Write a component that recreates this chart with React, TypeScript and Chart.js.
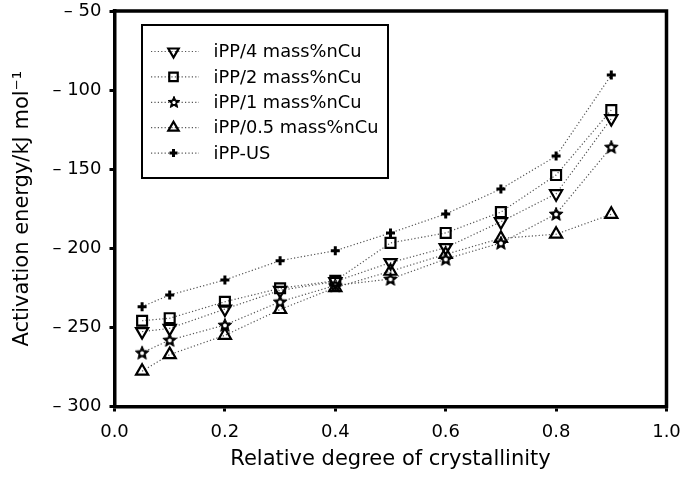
import React, { useEffect, useRef } from 'react';
import { Chart, registerables } from 'chart.js';

Chart.register(...registerables);

const X_VALUES = [0.05, 0.1, 0.2, 0.3, 0.4, 0.5, 0.6, 0.7, 0.8, 0.9];
const SERIES_LABELS = ['iPP/4 mass%nCu', 'iPP/2 mass%nCu', 'iPP/1 mass%nCu', 'iPP/0.5 mass%nCu', 'iPP-US'];
const IPP_4 = [-252.7, -250.6, -238.4, -226.6, -221.0, -209.0, -199.6, -183.2, -165.5, -118.0];
const IPP_2 = [-245.8, -244.2, -233.8, -225.3, -220.5, -196.6, -190.3, -177.1, -153.7, -112.6];
const IPP_1 = [-266.0, -258.0, -248.5, -233.8, -223.5, -219.4, -206.8, -196.6, -178.3, -136.0];
const IPP_05 = [-277.7, -267.2, -255.0, -238.7, -224.8, -214.5, -203.8, -193.7, -191.1, -178.5];
const IPP_US = [-236.9, -229.5, -220.0, -207.8, -201.5, -190.3, -178.3, -162.5, -141.7, -90.5];

const X_TICKS = [0, 0.2, 0.4, 0.6, 0.8, 1.0];
const X_TICK_LABELS = ['0.0', '0.2', '0.4', '0.6', '0.8', '1.0'];
const Y_TICKS = [-300, -250, -200, -150, -100, -50];
const Y_TICK_LABELS = ['\u2013 300', '\u2013 250', '\u2013 200', '\u2013 150', '\u2013 100', '\u2013 50'];
const X_TITLE = 'Relative degree of crystallinity';
const Y_TITLE = 'Activation energy/kJ mol\u207B\u00B9';

const FONT = "'DejaVu Sans', sans-serif";
const LINE_COLOR = '#555';

function starPath(ctx: CanvasRenderingContext2D, cx: number, cy: number, outer: number, inner: number) {
  ctx.beginPath();
  for (let i = 0; i < 10; i++) {
    const r = i % 2 === 0 ? outer : inner;
    const a = -Math.PI / 2 + (i * Math.PI) / 5;
    const px = cx + r * Math.cos(a);
    const py = cy + r * Math.sin(a);
    if (i === 0) ctx.moveTo(px, py);
    else ctx.lineTo(px, py);
  }
  ctx.closePath();
}

function makeStar(size: number, outer: number, inner: number) {
  const c = document.createElement('canvas');
  c.width = size;
  c.height = size;
  const ctx = c.getContext('2d')!;
  const cx = size / 2, cy = size / 2 + 0.5;
  starPath(ctx, cx, cy, outer, inner);
  ctx.fillStyle = '#000';
  ctx.fill();
  ctx.lineWidth = 1;
  ctx.strokeStyle = '#000';
  ctx.lineJoin = 'round';
  ctx.stroke();
  starPath(ctx, cx, cy, outer * 0.3, inner * 0.55);
  ctx.fillStyle = '#fff';
  ctx.fill();
  return c;
}

function drawMarker(ctx: CanvasRenderingContext2D, style: any, x: number, y: number, r: number, rot: number, lw: number) {
  ctx.save();
  ctx.strokeStyle = '#000';
  ctx.lineWidth = lw;
  if (style instanceof HTMLCanvasElement) {
    ctx.drawImage(style, Math.round(x - style.width / 2), Math.round(y - style.height / 2));
    ctx.restore();
    return;
  }
  ctx.beginPath();
  if (style === 'triangle') {
    let rad = (rot * Math.PI) / 180;
    ctx.moveTo(x + Math.sin(rad) * r, y - Math.cos(rad) * r);
    rad += (2 * Math.PI) / 3;
    ctx.lineTo(x + Math.sin(rad) * r, y - Math.cos(rad) * r);
    rad += (2 * Math.PI) / 3;
    ctx.lineTo(x + Math.sin(rad) * r, y - Math.cos(rad) * r);
    ctx.closePath();
  } else if (style === 'rect') {
    const s = r * Math.SQRT1_2;
    ctx.rect(x - s, y - s, 2 * s, 2 * s);
  } else if (style === 'cross') {
    ctx.moveTo(x - r, y);
    ctx.lineTo(x + r, y);
    ctx.moveTo(x, y - r);
    ctx.lineTo(x, y + r);
  }
  ctx.stroke();
  ctx.restore();
}

const framePlugin = {
  id: 'frame',
  afterDraw(chart: any) {
    const { ctx, chartArea } = chart;
    ctx.save();
    ctx.strokeStyle = '#000';
    ctx.lineWidth = 3.5;
    ctx.lineCap = 'square';
    ctx.beginPath();
    ctx.moveTo(chartArea.left, chartArea.top);
    ctx.lineTo(chartArea.right, chartArea.top);
    ctx.lineTo(chartArea.right, chartArea.bottom);
    ctx.stroke();
    ctx.restore();
  },
};

const legendPlugin = {
  id: 'boxLegend',
  afterDraw(chart: any) {
    const { ctx, chartArea } = chart;
    const bx = chartArea.left + 27.5;
    const by = chartArea.top + 14;
    const bw = 246;
    const bh = 153;
    ctx.save();
    ctx.fillStyle = '#fff';
    ctx.fillRect(bx, by, bw, bh);
    ctx.strokeStyle = '#000';
    ctx.lineWidth = 2;
    ctx.strokeRect(bx, by, bw, bh);
    const datasets = chart.data.datasets;
    datasets.forEach((ds: any, i: number) => {
      const y = by + 26.5 + i * 25.4;
      ctx.save();
      ctx.strokeStyle = LINE_COLOR;
      ctx.lineWidth = 1.2;
      ctx.setLineDash([1.2, 2.2]);
      ctx.beginPath();
      ctx.moveTo(bx + 9, y);
      ctx.lineTo(bx + 57, y);
      ctx.stroke();
      ctx.restore();
      const style = ds.pointStyle;
      const r = ds.legendRadius;
      drawMarker(ctx, style instanceof HTMLCanvasElement ? ds.legendImage : style, bx + 31.5, y, r, ds.pointRotation || 0, ds.pointBorderWidth);
      ctx.fillStyle = '#000';
      ctx.font = `17.8px ${FONT}`;
      ctx.textBaseline = 'middle';
      ctx.textAlign = 'left';
      ctx.fillText(ds.label, bx + 71.5, y + 1);
    });
    ctx.restore();
  },
};

export default function App() {
  const ref = useRef<HTMLCanvasElement | null>(null);

  useEffect(() => {
    document.body.style.margin = '0';
    const canvas = ref.current!;
    const star = makeStar(16, 7.2, 3.2);
    const starSmall = makeStar(14, 6.2, 2.8);
    const mk = (ys: number[]) => X_VALUES.map((x, i) => ({ x, y: ys[i] }));
    const base = {
      borderColor: LINE_COLOR,
      borderWidth: 1.2,
      borderDash: [1.2, 2.2],
      pointBorderColor: '#000',
      pointBackgroundColor: 'rgba(0,0,0,0)',
      pointBorderWidth: 2.2,
      showLine: true,
      fill: false,
      tension: 0,
    };
    const chart = new Chart(canvas, {
      type: 'line',
      data: {
        datasets: [
          { ...base, label: SERIES_LABELS[0], data: mk(IPP_4), pointStyle: 'triangle', pointRotation: 180, pointRadius: 7, legendRadius: 6 } as any,
          { ...base, label: SERIES_LABELS[1], data: mk(IPP_2), pointStyle: 'rect', pointRadius: 7, legendRadius: 6 } as any,
          { ...base, label: SERIES_LABELS[2], data: mk(IPP_1), pointStyle: star, pointRadius: 7, legendImage: starSmall, legendRadius: 6 } as any,
          { ...base, label: SERIES_LABELS[3], data: mk(IPP_05), pointStyle: 'triangle', pointRadius: 7, legendRadius: 6 } as any,
          { ...base, label: SERIES_LABELS[4], data: mk(IPP_US), pointStyle: 'cross', pointRadius: 4.5, pointBorderWidth: 3, legendRadius: 4 } as any,
        ],
      },
      options: {
        animation: false,
        responsive: false,
        devicePixelRatio: 1,
        layout: { padding: { left: 0, top: 11, right: 18.5, bottom: 0 } },
        plugins: {
          legend: { display: false },
          tooltip: { enabled: false },
        },
        scales: {
          x: {
            type: 'linear',
            min: 0,
            max: 1,
            afterBuildTicks: (s: any) => {
              s.ticks = X_TICKS.map((v) => ({ value: v }));
            },
            afterFit: (s: any) => {
              s.height = 87.5;
              s.paddingLeft = 0;
              s.paddingRight = 0;
            },
            grid: { drawOnChartArea: false, drawTicks: true, tickLength: 5, lineWidth: 3, color: '#000' },
            border: { display: true, color: '#000', width: 3.5 },
            ticks: {
              color: '#000',
              padding: 10,
              font: { family: FONT, size: 18 },
              callback: (v: any) => {
                const i = X_TICKS.findIndex((t) => Math.abs(t - v) < 1e-9);
                return i >= 0 ? X_TICK_LABELS[i] : '';
              },
              maxRotation: 0,
            },
            title: {
              display: true,
              text: X_TITLE,
              color: '#000',
              font: { family: FONT, size: 21 },
              padding: { top: 4, bottom: 22 },
            },
          },
          y: {
            type: 'linear',
            min: -300,
            max: -50,
            afterBuildTicks: (s: any) => {
              s.ticks = Y_TICKS.map((v) => ({ value: v }));
            },
            afterFit: (s: any) => {
              s.width = 114.5;
              s.paddingTop = 0;
              s.paddingBottom = 0;
            },
            grid: { drawOnChartArea: false, drawTicks: true, tickLength: 5, lineWidth: 3, color: '#000' },
            border: { display: true, color: '#000', width: 3.5 },
            ticks: {
              color: '#000',
              padding: 8,
              font: { family: FONT, size: 18 },
              callback: (v: any) => {
                const i = Y_TICKS.findIndex((t) => Math.abs(t - v) < 1e-9);
                return i >= 0 ? Y_TICK_LABELS[i] : '';
              },
            },
            title: {
              display: true,
              text: Y_TITLE,
              color: '#000',
              font: { family: FONT, size: 21 },
              padding: { top: 9.5, bottom: 4 },
            },
          },
        },
      },
      plugins: [framePlugin, legendPlugin],
    });
    return () => chart.destroy();
  }, []);

  return (
    <div style={{ width: 685, height: 494, background: '#fff' }}>
      <canvas ref={ref} width={685} height={494} style={{ display: 'block', width: 685, height: 494 }} />
    </div>
  );
}
